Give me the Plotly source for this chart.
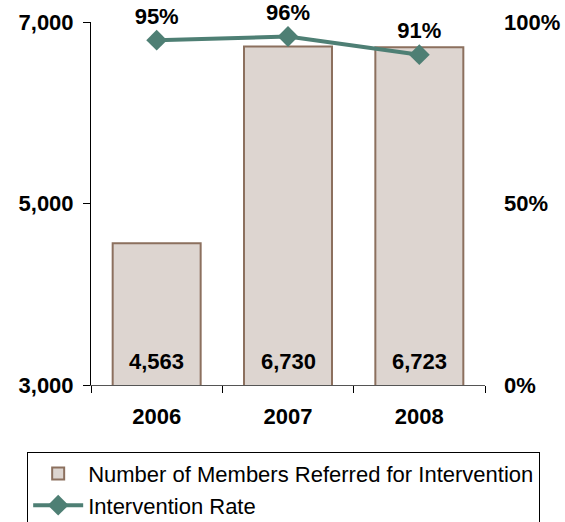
import plotly.graph_objects as go

# Referral counts and intervention rates by year
years = ["2006", "2007", "2008"]
members_referred = [4563, 6730, 6723]
intervention_rate = [0.95, 0.96, 0.91]

BAR_FILL = "#DDD5D0"
BAR_EDGE = "#8C705E"
LINE_COLOR = "#4E7F74"
FONT = "Arial, Liberation Sans, sans-serif"

fig = go.Figure()

fig.add_trace(go.Bar(
    x=years, y=members_referred,
    name="Number of Members Referred for Intervention",
    marker=dict(color=BAR_FILL, line=dict(color=BAR_EDGE, width=2)),
    width=0.67,
    yaxis="y",
))

fig.add_trace(go.Scatter(
    x=years, y=intervention_rate,
    name="Intervention Rate",
    mode="lines+markers+text",
    line=dict(color=LINE_COLOR, width=4),
    marker=dict(symbol="diamond", size=16, color=LINE_COLOR),
    text=[f"{v:.0%}" for v in intervention_rate],
    textposition="top center",
    textfont=dict(family=FONT, size=22, color="black", weight="bold"),
    cliponaxis=False,
    yaxis="y2",
))

# Value labels near the base of each bar (category index on the x axis)
y_min, y_max = 3000, 7000
for i, v in enumerate(members_referred):
    fig.add_annotation(
        x=i, y=y_min, xref="x", yref="y",
        text=f"<b>{v:,}</b>", showarrow=False,
        yanchor="middle", yshift=24,
        font=dict(family=FONT, size=22, color="black"),
    )

tick_font = dict(family=FONT, size=22, color="black", weight="bold")

fig.update_layout(
    width=565, height=522,
    margin=dict(l=91, r=80, t=22, b=137, autoexpand=False),
    paper_bgcolor="white", plot_bgcolor="white",
    font=dict(family=FONT),
    bargap=0.33,
    xaxis=dict(
        type="category", range=[-0.5, 2.5],
        tickson="boundaries", ticks="outside", ticklen=7,
        tickcolor="black", tickwidth=1,
        showline=True, linecolor="#555555", linewidth=1,
        showgrid=False, tickfont=tick_font, ticklabelstandoff=12,
    ),
    yaxis=dict(
        range=[y_min, y_max], tick0=y_min, dtick=2000, tickformat=",",
        ticks="outside", ticklen=7, tickcolor="black", tickwidth=1,
        showline=True, linecolor="black", linewidth=1,
        showgrid=False, zeroline=False, tickfont=tick_font,
        ticklabelstandoff=5,
    ),
    yaxis2=dict(
        overlaying="y", side="right", range=[0, 1], dtick=0.5,
        tickformat=".0%", showline=False, ticks="", showgrid=False,
        zeroline=False, tickfont=tick_font, ticklabelstandoff=18,
    ),
    # overlay axes carrying the inner half of each tick mark
    xaxis3=dict(
        overlaying="x", anchor="y", range=[-0.5, 2.5], tick0=-0.5, dtick=1,
        ticks="inside", ticklen=7, tickcolor="black", tickwidth=1,
        showticklabels=False, showgrid=False, zeroline=False, showline=False,
    ),
    yaxis3=dict(
        overlaying="y", anchor="x", range=[y_min, y_max], tick0=y_min, dtick=2000,
        ticks="inside", ticklen=7, tickcolor="black", tickwidth=1,
        showticklabels=False, showgrid=False, zeroline=False, showline=False,
    ),
    showlegend=True,
    legend=dict(
        x=-0.162, y=-0.184, xanchor="left", yanchor="top",
        orientation="v", bgcolor="white",
        bordercolor="black", borderwidth=1,
        font=dict(family=FONT, size=22, color="black"),
        itemwidth=50, tracegroupgap=0,
    ),
)

fig.write_html("out.html")
